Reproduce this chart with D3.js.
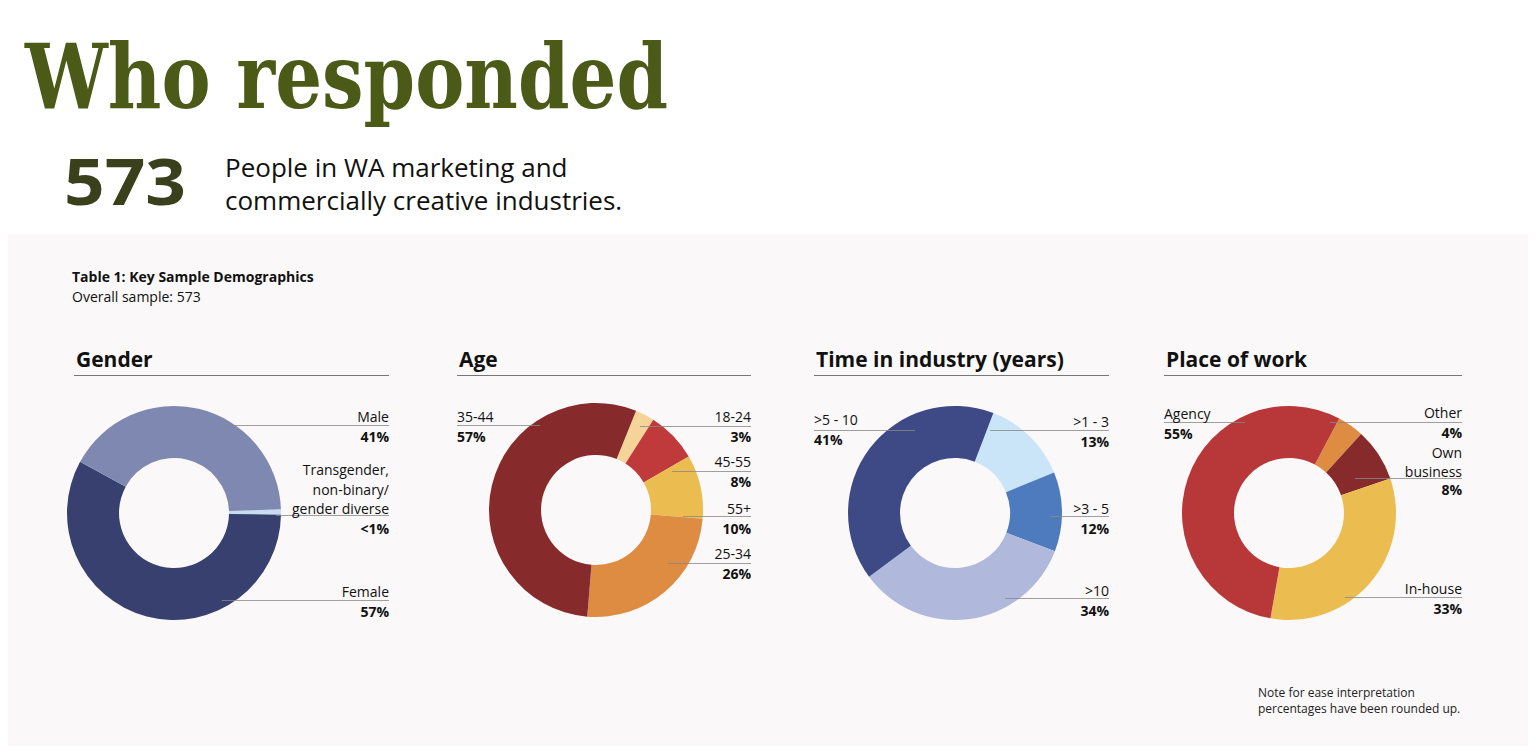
<!DOCTYPE html>
<html><head><meta charset="utf-8">
<script src="https://cdn.jsdelivr.net/npm/d3@7"></script>
<style>body{margin:0;background:#fff;font-family:"Open Sans",sans-serif}</style>
</head><body><svg id="c" width="1536" height="756"></svg>
<script>
const genderLabels=["Transgender, non-binary/ gender diverse","Female","Male"];
const genderValues=[0.8,57,41];
const genderColors=["#c5dcf3","#37406e","#7f88b0"];
const ageLabels=["18-24","45-55","55+","25-34","35-44"];
const ageValues=[3,8,10,26,57];
const ageColors=["#f5d49a","#c0393b","#ebbd50","#dd8c42","#862a2b"];
const timeLabels=[">1 - 3",">3 - 5",">10",">5 - 10"];
const timeValues=[13,12,34,41];
const timeColors=["#c9e5f7","#4e7bbd","#b0b9dc","#3d4a85"];
const placeLabels=["Other","Own business","In-house","Agency"];
const placeValues=[4,8,33,55];
const placeColors=["#dd8c42","#862a2b","#ebbd50","#b8383a"];

const svg=d3.select("#c");
svg.append("text").attr("x",25).attr("y",108).attr("font-family","DejaVu Serif").attr("font-weight","bold")
 .attr("font-size",90).attr("fill","#4b5a17").attr("textLength",643).attr("lengthAdjust","spacingAndGlyphs").text("Who responded");
svg.append("text").attr("x",64).attr("y",205).attr("font-weight","bold").attr("font-size",64).attr("fill","#3a3f1c")
 .attr("textLength",122).attr("lengthAdjust","spacingAndGlyphs").text("573");
svg.append("text").attr("x",225).attr("y",177).attr("font-size",26).attr("fill","#111").text("People in WA marketing and");
svg.append("text").attr("x",225).attr("y",210).attr("font-size",26).attr("fill","#111").text("commercially creative industries.");
svg.append("rect").attr("x",8).attr("y",234).attr("width",1520).attr("height",512).attr("fill","#faf8f8");
svg.append("text").attr("x",72).attr("y",282).attr("font-weight","bold").attr("font-size",14).attr("fill","#111").text("Table 1: Key Sample Demographics");
svg.append("text").attr("x",72).attr("y",302).attr("font-size",14).attr("fill","#111").text("Overall sample: 573");
svg.append("text").attr("x",1258).attr("y",697).attr("font-size",12).attr("fill","#222").text("Note for ease interpretation");
svg.append("text").attr("x",1258).attr("y",713).attr("font-size",12).attr("fill","#222").text("percentages have been rounded up.");

const panels=[
 {title:"Gender",x0:74,x1:389,cx:174,cy:513,start:88,labels:genderLabels,values:genderValues,colors:genderColors,
  ann:[{i:2,lines:["Male","41%"],y:417,ly:425,lx:222,side:"r"},
       {i:0,lines:["Transgender,","non-binary/","gender diverse","<1%"],y:470,ly:515,lx:276,side:"r"},
       {i:1,lines:["Female","57%"],y:592,ly:600,lx:222,side:"r"}]},
 {title:"Age",x0:457,x1:751,cx:596,cy:510,start:22,labels:ageLabels,values:ageValues,colors:ageColors,
  ann:[{i:4,lines:["35-44","57%"],y:417,ly:425,lx:540,side:"l"},
       {i:0,lines:["18-24","3%"],y:417,ly:426,lx:640,side:"r"},
       {i:1,lines:["45-55","8%"],y:462,ly:471,lx:672,side:"r"},
       {i:2,lines:["55+","10%"],y:509,ly:516,lx:683,side:"r"},
       {i:3,lines:["25-34","26%"],y:554,ly:563,lx:668,side:"r"}]},
 {title:"Time in industry (years)",x0:814,x1:1109,cx:955,cy:513,start:21,labels:timeLabels,values:timeValues,colors:timeColors,
  ann:[{i:3,lines:[">5 - 10","41%"],y:420,ly:430,lx:915,side:"l"},
       {i:0,lines:[">1 - 3","13%"],y:422,ly:430,lx:990,side:"r"},
       {i:1,lines:[">3 - 5","12%"],y:509,ly:516,lx:1050,side:"r"},
       {i:2,lines:[">10","34%"],y:591,ly:598,lx:1005,side:"r"}]},
 {title:"Place of work",x0:1164,x1:1462,cx:1289,cy:513,start:28,labels:placeLabels,values:placeValues,colors:placeColors,
  ann:[{i:3,lines:["Agency","55%"],y:414,ly:422,lx:1245,side:"l"},
       {i:0,lines:["Other","4%"],y:413,ly:422,lx:1330,side:"r"},
       {i:1,lines:["Own","business","8%"],y:453,ly:478,lx:1355,side:"r",sp:18.5},
       {i:2,lines:["In-house","33%"],y:589,ly:597,lx:1345,side:"r"}]}
];
const arc=d3.arc().innerRadius(55).outerRadius(107);
panels.forEach(p=>{
  const g=svg.append("g");
  g.append("text").attr("x",p.x0+2).attr("y",367).attr("font-weight","bold").attr("font-size",21).attr("fill","#111").text(p.title);
  g.append("line").attr("x1",p.x0).attr("x2",p.x1).attr("y1",375.5).attr("y2",375.5).attr("stroke","#777").attr("stroke-width",1);
  const sa=p.start*Math.PI/180;
  const pie=d3.pie().sort(null).value(d=>d).startAngle(sa).endAngle(sa+2*Math.PI);
  g.append("g").attr("transform",`translate(${p.cx},${p.cy})`).selectAll("path").data(pie(p.values)).join("path")
   .attr("d",arc).attr("fill",(d,i)=>p.colors[i]);
  p.ann.forEach(a=>{
    const r=a.side==="r";
    g.append("line").attr("x1",a.lx).attr("x2",r?p.x1:p.x0).attr("y1",a.ly+0.5).attr("y2",a.ly+0.5).attr("stroke","#888").attr("stroke-width",0.8);
    a.lines.forEach((t,k)=>{
      const last=k===a.lines.length-1;
      g.append("text").attr("x",r?p.x1:p.x0).attr("y",a.y+5+k*(a.sp||19.5)).attr("text-anchor",r?"end":"start")
       .attr("font-size",14).attr("font-weight",last?"bold":"normal").attr("fill","#111").text(t);
    });
  });
});
</script></body></html>
